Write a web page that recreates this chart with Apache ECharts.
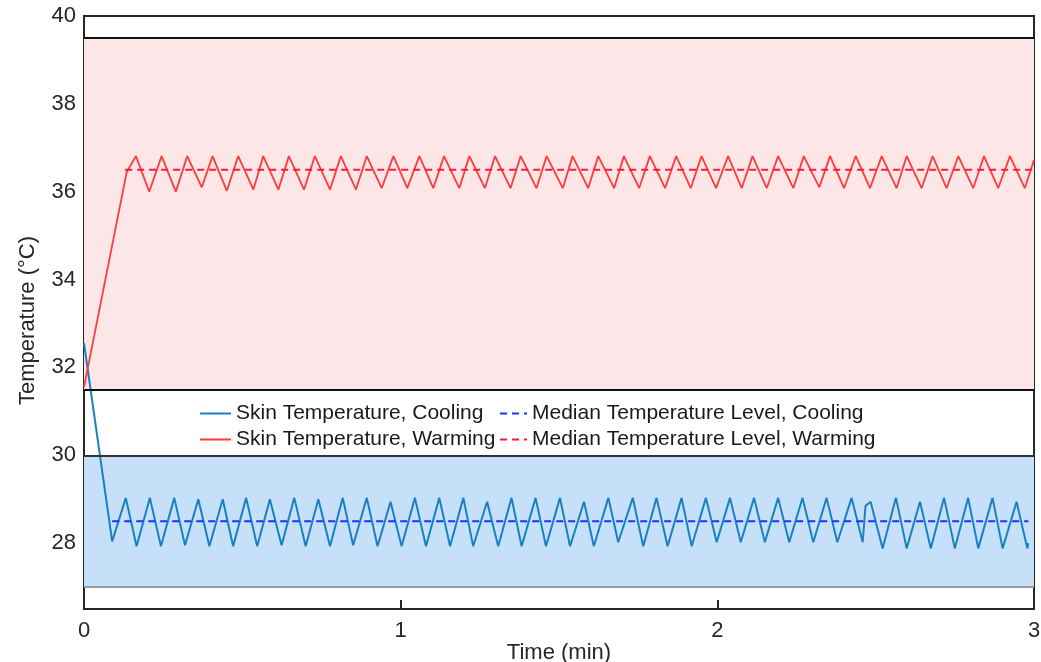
<!DOCTYPE html>
<html>
<head>
<meta charset="utf-8">
<title>Skin temperature</title>
<script src="https://cdn.jsdelivr.net/npm/echarts@6/dist/echarts.min.js"></script>
<style>
  html, body { margin: 0; padding: 0; background: #fff; }
  #chart { width: 1041px; height: 662px; }
</style>
</head>
<body>
<div id="chart"></div>
<script>
// time in minutes, temperature in deg C
var coolingTime = [0, 0.089, 0.132, 0.166, 0.208, 0.243, 0.285, 0.319, 0.361, 0.396, 0.438, 0.471, 0.512, 0.547, 0.587, 0.624, 0.664, 0.700, 0.740, 0.777, 0.817, 0.850, 0.893, 0.927, 0.968, 1.003, 1.045, 1.080, 1.122, 1.156, 1.198, 1.229, 1.273, 1.308, 1.350, 1.382, 1.426, 1.459, 1.503, 1.535, 1.579, 1.610, 1.656, 1.687, 1.733, 1.766, 1.808, 1.843, 1.887, 1.919, 1.964, 1.998, 2.040, 2.074, 2.116, 2.150, 2.192, 2.227, 2.269, 2.303, 2.345, 2.379, 2.424, 2.459, 2.468, 2.484, 2.522, 2.564, 2.598, 2.640, 2.674, 2.716, 2.750, 2.792, 2.824, 2.869, 2.901, 2.945, 2.979, 2.982]
var coolingTemp = [32.55, 28.04, 29.03, 27.93, 29.03, 27.93, 29.03, 27.95, 29.0, 27.93, 29.0, 27.93, 29.03, 27.93, 29.0, 27.95, 29.03, 27.93, 29.0, 27.93, 29.03, 27.95, 29.03, 27.93, 28.94, 27.93, 29.03, 27.93, 29.03, 27.93, 29.03, 27.93, 28.94, 27.93, 29.03, 27.93, 29.03, 27.93, 29.03, 27.93, 28.94, 27.93, 29.03, 28.02, 29.03, 27.93, 29.03, 27.93, 29.03, 27.93, 29.03, 28.02, 29.03, 28.02, 29.03, 28.02, 29.03, 28.02, 29.03, 28.02, 29.03, 28.02, 29.03, 28.02, 28.85, 28.94, 27.88, 29.03, 27.88, 28.94, 27.88, 29.03, 27.88, 29.03, 27.88, 29.03, 27.88, 28.94, 27.88, 28.0]

var warmingTime = [0, 0.135, 0.164, 0.206, 0.245, 0.290, 0.326, 0.372, 0.406, 0.451, 0.487, 0.535, 0.566, 0.614, 0.647, 0.695, 0.729, 0.777, 0.811, 0.859, 0.893, 0.940, 0.977, 1.021, 1.059, 1.103, 1.137, 1.185, 1.217, 1.266, 1.298, 1.347, 1.379, 1.429, 1.461, 1.512, 1.543, 1.592, 1.624, 1.674, 1.705, 1.753, 1.787, 1.835, 1.870, 1.916, 1.950, 1.996, 2.034, 2.077, 2.111, 2.156, 2.192, 2.240, 2.273, 2.322, 2.356, 2.400, 2.437, 2.482, 2.519, 2.566, 2.598, 2.645, 2.680, 2.724, 2.761, 2.808, 2.842, 2.887, 2.924, 2.971, 3.0]
var warmingTemp = [31.55, 36.45, 36.81, 36.0, 36.81, 36.0, 36.81, 36.1, 36.81, 36.02, 36.81, 36.05, 36.81, 36.05, 36.81, 36.05, 36.81, 36.05, 36.81, 36.05, 36.81, 36.08, 36.81, 36.08, 36.81, 36.08, 36.81, 36.08, 36.81, 36.08, 36.81, 36.08, 36.81, 36.08, 36.81, 36.08, 36.81, 36.08, 36.81, 36.08, 36.81, 36.08, 36.81, 36.08, 36.81, 36.08, 36.81, 36.08, 36.81, 36.08, 36.81, 36.08, 36.81, 36.08, 36.81, 36.1, 36.81, 36.08, 36.81, 36.08, 36.81, 36.08, 36.81, 36.08, 36.81, 36.08, 36.81, 36.08, 36.81, 36.08, 36.81, 36.08, 36.72]

var coolingMedianTime = [0.089, 2.982]
var coolingMedian = [28.5, 28.5]
var warmingMedianTime = [0.13, 3.0]
var warmingMedian = [36.5, 36.5]

// target bands [low, high]
var coolingBand = [27, 30]
var warmingBand = [31.5, 39.5]

var yTicks = [28, 30, 32, 34, 36, 38, 40]
var xTicks = [0, 1, 2, 3]

function pairs(xs, ys) {
  return xs.map(function (x, i) { return [x, ys[i]] })
}

var font = 'Liberation Sans, Arial, Helvetica, sans-serif'
var ink = '#262626'
var legendText = { fontFamily: font, fontSize: 21, color: '#1a1a1a', lineHeight: 21 }

var chart = echarts.init(document.getElementById('chart'))

chart.setOption({
  animation: false,
  backgroundColor: '#fff',
  textStyle: { fontFamily: font },
  grid: {
    left: 84,
    right: 7,
    top: 16,
    bottom: 53,
    outerBoundsMode: 'none',
    show: true,
    borderColor: ink,
    borderWidth: 2,
    backgroundColor: 'transparent'
  },
  legend: [{
    orient: 'vertical',
    left: 194,
    top: 398,
    itemWidth: 31,
    itemHeight: 14,
    itemGap: 5,
    itemStyle: { opacity: 0 },
    textStyle: legendText,
    data: ['Skin Temperature, Cooling', 'Skin Temperature, Warming']
  }, {
    orient: 'vertical',
    left: 494,
    top: 398,
    itemWidth: 27,
    itemHeight: 14,
    itemGap: 5,
    itemStyle: { opacity: 0 },
    textStyle: legendText,
    data: ['Median Temperature Level, Cooling', 'Median Temperature Level, Warming']
  }],
  xAxis: {
    type: 'value',
    min: 0,
    max: 3,
    interval: 1,
    name: 'Time (min)',
    nameLocation: 'middle',
    nameGap: 33,
    nameMoveOverlap: false,
    nameTextStyle: { fontFamily: font, fontSize: 22, color: ink },
    axisLine: { lineStyle: { color: ink, width: 2 } },
    axisTick: { inside: true, length: 9, lineStyle: { color: ink, width: 2 } },
    axisLabel: {
      margin: 11,
      fontSize: 22,
      color: ink,
      fontFamily: font,
      customValues: xTicks
    },
    splitLine: { show: false }
  },
  yAxis: [{
    type: 'value',
    min: 26.5,
    max: 40,
    name: 'Temperature (°C)',
    nameLocation: 'middle',
    nameGap: 45,
    nameTextStyle: { fontFamily: font, fontSize: 22, color: ink, padding: [0, 16, 0, 0] },
    axisLine: { lineStyle: { color: ink, width: 2 } },
    axisTick: { inside: true, length: 9, customValues: yTicks, lineStyle: { color: ink, width: 2 } },
    axisLabel: {
      margin: 8,
      fontSize: 22,
      color: ink,
      fontFamily: font,
      customValues: yTicks
    },
    splitLine: { show: false }
  }, {
    type: 'value',
    position: 'right',
    min: 26.5,
    max: 40,
    axisLine: { show: true, lineStyle: { color: ink, width: 2 } },
    axisTick: { inside: true, length: 9, customValues: yTicks, lineStyle: { color: ink, width: 2 } },
    axisLabel: { show: false },
    splitLine: { show: false }
  }],
  series: [{
    name: 'bands',
    type: 'line',
    z: 1,
    data: [],
    silent: true,
    markArea: {
      silent: true,
      data: [
        [{ yAxis: warmingBand[0], itemStyle: { color: '#fde6e7' } }, { yAxis: warmingBand[1] }],
        [{ yAxis: coolingBand[0], itemStyle: { color: '#c6e0f9' } }, { yAxis: coolingBand[1] }]
      ]
    },
    markLine: {
      silent: true,
      symbol: 'none',
      label: { show: false },
      data: [
        { yAxis: warmingBand[1], lineStyle: { color: '#111', width: 2, type: 'solid' } },
        { yAxis: warmingBand[0], lineStyle: { color: '#111', width: 2, type: 'solid' } },
        { yAxis: coolingBand[1], lineStyle: { color: '#333', width: 2, type: 'solid' } },
        { yAxis: coolingBand[0], lineStyle: { color: '#9a9a9a', width: 2, type: 'solid' } }
      ]
    }
  }, {
    name: 'Skin Temperature, Cooling',
    type: 'line',
    z: 3,
    symbol: 'none',
    lineStyle: { color: '#1a80c4', width: 2 },
    itemStyle: { color: '#1a80c4' },
    data: pairs(coolingTime, coolingTemp)
  }, {
    name: 'Skin Temperature, Warming',
    type: 'line',
    z: 3,
    symbol: 'none',
    lineStyle: { color: '#ff3b3b', width: 1.8 },
    itemStyle: { color: '#ff3b3b' },
    data: pairs(warmingTime, warmingTemp)
  }, {
    name: 'Median Temperature Level, Cooling',
    type: 'line',
    z: 4,
    symbol: 'none',
    lineStyle: { color: '#1633ff', width: 2, type: [7, 5] },
    itemStyle: { color: '#1633ff' },
    data: pairs(coolingMedianTime, coolingMedian)
  }, {
    name: 'Median Temperature Level, Warming',
    type: 'line',
    z: 4,
    symbol: 'none',
    lineStyle: { color: '#ff1a35', width: 2, type: [7, 5] },
    itemStyle: { color: '#ff1a35' },
    data: pairs(warmingMedianTime, warmingMedian)
  }]
})
</script>
</body>
</html>
